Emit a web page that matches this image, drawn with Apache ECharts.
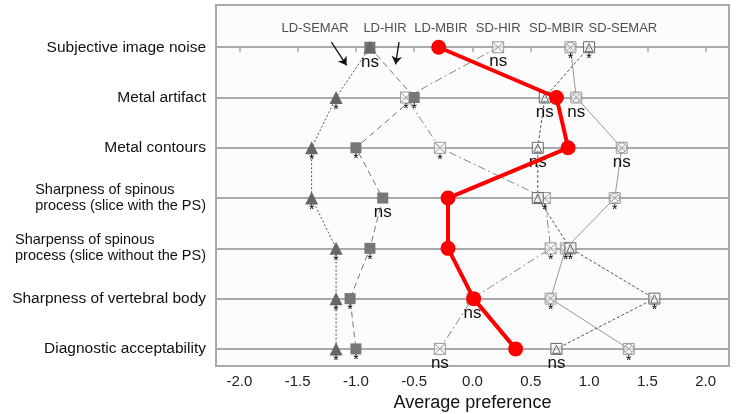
<!DOCTYPE html>
<html><head><meta charset="utf-8">
<script src="https://cdn.jsdelivr.net/npm/echarts@6/dist/echarts.min.js"></script>
<style>html,body{margin:0;padding:0;background:#fff}#c{width:737px;height:414px}</style>
</head><body><div id="c"></div>
<script>
var categories = ['Subjective image noise','Metal artifact','Metal contours','Sharpness of spinous\nprocess (slice with the PS)','Sharpenss of spinous\nprocess (slice without the PS)','Sharpness of vertebral body','Diagnostic acceptability'];
var ldSemar = [-0.88,-1.17,-1.38,-1.38,-1.17,-1.17,-1.17];
var ldHir   = [-0.88,-0.50,-1.00,-0.77,-0.88,-1.05,-1.00];
var ldMbir  = [-0.29,0.72,0.82,-0.21,-0.21,0.01,0.37];
var sdHir   = [0.22,-0.57,-0.28,0.62,0.67,0.00,-0.28];
var sdMbir  = [0.84,0.89,1.28,1.22,0.80,0.67,1.34];
var sdSemar = [1.00,0.62,0.56,0.56,0.84,1.56,0.72];
var annLdSemar = ['ns','*','*','*','*','*','*'];
var annLdHir   = ['','*','*','ns','*','*','*'];
var annSdHir   = ['ns','*','*','*','*','ns','ns'];
var annSdMbir  = ['*','ns','ns','*','*','*','*'];
var annSdSemar = ['*','ns','ns','','*','*','ns'];
var headerNames = ['LD-SEMAR','LD-HIR','LD-MBIR','SD-HIR','SD-MBIR','SD-SEMAR'];
var headerX = [-1.35,-0.75,-0.27,0.22,0.72,1.29];
var xTicks = [-2,-1.5,-1,-0.5,0,0.5,1,1.5,2];
var rows = [0,1,2,3,4,5,6];

function pts(arr){ return arr.map(function(v,i){ return [v,i]; }); }
function annLabel(ann){
  return {
    show:true, position:'bottom', distance:0,
    formatter:function(p){ var a = ann[p.dataIndex]; if(a==='ns') return '{ns|ns}'; if(a==='*') return '{st|*}'; return ''; },
    rich:{ ns:{fontSize:17, color:'#111', fontFamily:'Liberation Sans', lineHeight:17}, st:{fontSize:14, color:'#000', fontFamily:'Liberation Sans', lineHeight:12} }
  };
}
var sqX = 'path://M0,0H10V10H0Z M0,0L10,10 M10,0L0,10';
var circX = 'path://M0,0H10V10H0Z M5,0.5A4.5,4.5 0 1,1 5,9.5A4.5,4.5 0 1,1 5,0.5Z M1.8,1.8L8.2,8.2M8.2,1.8L1.8,8.2';
var sqTri = 'path://M0,0H10V10H0Z M1.5,9L5,1.5L8.5,9Z';

var chart = echarts.init(document.getElementById('c'), null, {renderer:'canvas'});
chart.setOption({
  animation:false,
  backgroundColor:'#fff',
  grid:{left:216, right:8, top:5, bottom:48, outerBoundsMode:'none', containLabel:false, show:true, borderColor:'#aaa', borderWidth:2, backgroundColor:'#fcfcfc'},
  xAxis:{type:'value', min:-2.2, max:2.2,
    name:'Average preference', nameLocation:'middle', nameGap:27,
    nameTextStyle:{fontSize:18, color:'#111', fontFamily:'Liberation Sans'},
    axisLine:{show:false}, splitLine:{show:false},
    axisTick:{show:true, length:5, lineStyle:{color:'#aaa', width:1.5}, customValues:xTicks},
    axisLabel:{fontSize:15, color:'#222', fontFamily:'Liberation Sans', margin:8, customValues:xTicks,
      formatter:function(v){ return v.toFixed(1); }}
  },
  yAxis:{type:'value', inverse:true, min:-0.84, max:6.34,
    axisLine:{show:false}, splitLine:{show:false},
    axisTick:{show:true, length:6, lineStyle:{color:'#aaa', width:1.5}, customValues:rows},
    axisLabel:{fontSize:15.5, color:'#111', fontFamily:'Liberation Sans', margin:10, customValues:rows, lineHeight:16,
      formatter:function(v){ var c = categories[v]; if(c===undefined) return ''; var parts = c.split('\n'); var st = parts.length > 1 ? 'b' : 'a'; return parts.map(function(s){return '{'+st+'|'+s+'}';}).join('\n'); },
      rich:{a:{align:'left', fontSize:15.5, color:'#111', fontFamily:'Liberation Sans', lineHeight:16},
            b:{align:'left', fontSize:14.5, color:'#111', fontFamily:'Liberation Sans', lineHeight:16}}
    }
  },
  series:[
    {type:'scatter', z:0, symbolSize:1, itemStyle:{color:'rgba(0,0,0,0)'},
      data: headerNames.map(function(n,i){ return [headerX[i], -0.38, n]; }),
      label:{show:true, position:'inside', formatter:function(p){return p.data[2];}, fontSize:13, color:'#222', fontFamily:'Liberation Sans'},
      markLine:{silent:true, animation:false, z:0, symbol:['none','none'], label:{show:false},
        lineStyle:{color:'#aaa', width:2, type:'solid'},
        data: rows.map(function(r){ return {yAxis:r}; })
      }
    },
    {type:'scatter', z:1, symbolSize:0, data:[],
      markLine:{silent:true, animation:false, symbol:['none','arrow'], symbolSize:8, label:{show:false},
        lineStyle:{color:'#111', width:1.3, type:'solid'},
        data:[ [{coord:[-1.21,-0.10]},{coord:[-1.08,0.36]}], [{coord:[-0.63,-0.10]},{coord:[-0.66,0.34]}] ]
      }
    },
    {name:'SD-MBIR', type:'line', z:10, data:pts(sdMbir), symbol:circX, symbolSize:11,
      lineStyle:{color:'#999', width:1}, itemStyle:{color:'rgba(252,252,252,0.6)', borderColor:'#999', borderWidth:1},
      label:annLabel(annSdMbir)},
    {name:'SD-HIR', type:'line', z:10, data:pts(sdHir), symbol:sqX, symbolSize:11,
      lineStyle:{color:'#888', width:1, type:[8,3,2,3]}, itemStyle:{color:'rgba(252,252,252,0.6)', borderColor:'#999', borderWidth:1},
      label:annLabel(annSdHir)},
    {name:'SD-SEMAR', type:'line', z:10, data:pts(sdSemar), symbol:sqTri, symbolSize:11,
      lineStyle:{color:'#555', width:1, type:[3,2]}, itemStyle:{color:'rgba(252,252,252,0.6)', borderColor:'#666', borderWidth:1},
      label:annLabel(annSdSemar)},
    {name:'LD-HIR', type:'line', z:11, data:pts(ldHir), symbol:'rect', symbolSize:11,
      lineStyle:{color:'#777', width:1, type:[6,4]}, itemStyle:{color:'#777'},
      label:annLabel(annLdHir)},
    {name:'LD-SEMAR', type:'line', z:11, data:pts(ldSemar), symbol:'triangle', symbolSize:13,
      lineStyle:{color:'#555', width:1, type:[2,2]}, itemStyle:{color:'#666'},
      label:annLabel(annLdSemar)},
    {name:'LD-MBIR', type:'line', z:12, data:pts(ldMbir), symbol:'circle', symbolSize:15,
      lineStyle:{color:'#ff0000', width:4}, itemStyle:{color:'#ff0000'}}
  ]
});
</script></body></html>
